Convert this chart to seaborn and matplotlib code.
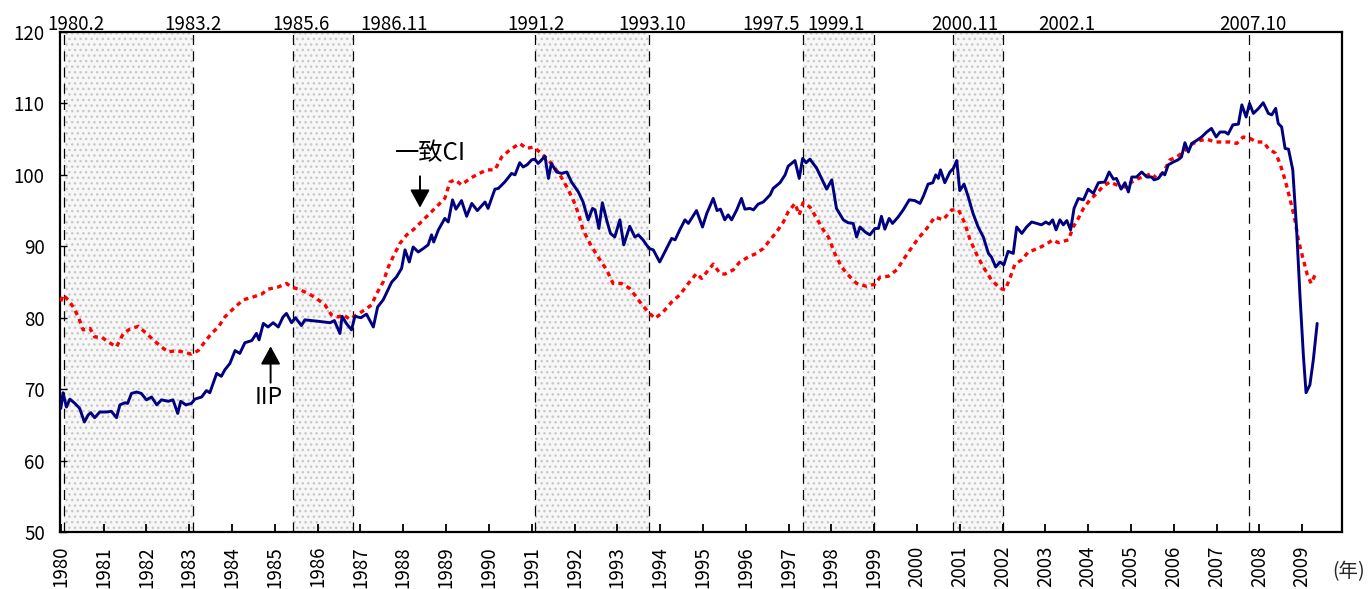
import numpy as np
import pandas as pd
import matplotlib
matplotlib.use("Agg")
import matplotlib.pyplot as plt
import seaborn as sns

sns.set_style("white")
plt.rcParams['font.family'] = ['Noto Sans CJK JP', 'DejaVu Sans']

# ---------------- data ----------------
iip_year = [1980.00, 1980.05, 1980.13, 1980.21, 1980.33, 1980.44, 1980.55, 1980.64, 1980.70, 1980.79,
            1980.91, 1981.07, 1981.18, 1981.30, 1981.38, 1981.50, 1981.56, 1981.65, 1981.77, 1981.88,
            1982.00, 1982.12, 1982.24, 1982.35, 1982.51, 1982.62, 1982.73, 1982.80, 1982.92, 1983.05,
            1983.13, 1983.29, 1983.40, 1983.48, 1983.64, 1983.75, 1983.83, 1983.95, 1984.07, 1984.18,
            1984.30, 1984.46, 1984.57, 1984.63, 1984.73, 1984.84, 1984.96, 1985.08, 1985.19, 1985.27,
            1985.39, 1985.48, 1985.62, 1985.70, 1986.01, 1986.29, 1986.39, 1986.52, 1986.57, 1986.67,
            1986.79, 1986.87, 1987.01, 1987.14, 1987.30, 1987.40, 1987.53, 1987.73, 1987.84, 1987.96,
            1988.04, 1988.14, 1988.23, 1988.35, 1988.47, 1988.58, 1988.66, 1988.71, 1988.82, 1988.97,
            1989.05, 1989.15, 1989.23, 1989.36, 1989.48, 1989.60, 1989.73, 1989.91, 1989.98, 1990.14,
            1990.22, 1990.37, 1990.53, 1990.61, 1990.72, 1990.80, 1990.89, 1991.00, 1991.07, 1991.15,
            1991.31, 1991.39, 1991.46, 1991.58, 1991.70, 1991.82, 1991.93, 1992.09, 1992.20, 1992.32,
            1992.42, 1992.48, 1992.57, 1992.65, 1992.75, 1992.84, 1992.94, 1993.06, 1993.15, 1993.29,
            1993.41, 1993.49, 1993.60, 1993.74, 1993.84, 1993.99, 1994.15, 1994.27, 1994.35, 1994.46,
            1994.58, 1994.66, 1994.85, 1994.99, 1995.09, 1995.24, 1995.33, 1995.41, 1995.51, 1995.59,
            1995.67, 1995.79, 1995.90, 1995.98, 1996.10, 1996.18, 1996.29, 1996.41, 1996.57, 1996.64,
            1996.80, 1996.92, 1996.99, 1997.15, 1997.25, 1997.33, 1997.41, 1997.50, 1997.66, 1997.77,
            1997.89, 1998.01, 1998.12, 1998.28, 1998.39, 1998.51, 1998.59, 1998.67, 1998.79, 1998.90,
            1999.02, 1999.10, 1999.17, 1999.25, 1999.35, 1999.43, 1999.56, 1999.68, 1999.82, 1999.95,
            2000.07, 2000.15, 2000.26, 2000.37, 2000.44, 2000.50, 2000.55, 2000.65, 2000.77, 2000.85,
            2000.93, 2001.00, 2001.10, 2001.20, 2001.31, 2001.43, 2001.55, 2001.67, 2001.74, 2001.84,
            2001.94, 2002.03, 2002.13, 2002.25, 2002.33, 2002.45, 2002.56, 2002.68, 2002.80, 2002.91,
            2003.01, 2003.09, 2003.17, 2003.25, 2003.34, 2003.42, 2003.50, 2003.59, 2003.67, 2003.77,
            2003.89, 2004.00, 2004.12, 2004.24, 2004.39, 2004.49, 2004.59, 2004.66, 2004.77, 2004.86,
            2004.94, 2005.02, 2005.13, 2005.25, 2005.37, 2005.48, 2005.54, 2005.64, 2005.74, 2005.79,
            2005.87, 2005.99, 2006.10, 2006.18, 2006.26, 2006.34, 2006.42, 2006.53, 2006.65, 2006.77,
            2006.88, 2006.99, 2007.08, 2007.20, 2007.27, 2007.38, 2007.51, 2007.59, 2007.69, 2007.77,
            2007.86, 2007.98, 2008.09, 2008.21, 2008.29, 2008.38, 2008.44, 2008.52, 2008.60, 2008.68,
            2008.78, 2008.87, 2008.95, 2009.03, 2009.09, 2009.18, 2009.26, 2009.35]
iip_value = [67.3, 69.5, 67.5, 68.6, 68.0, 67.3, 65.4, 66.4, 66.7, 66.0,
             66.8, 66.8, 66.9, 66.0, 67.8, 68.1, 68.0, 69.4, 69.6, 69.4,
             68.5, 68.9, 67.8, 68.5, 68.3, 68.5, 66.6, 68.3, 67.8, 68.0,
             68.6, 68.9, 69.8, 69.5, 72.2, 71.8, 72.7, 73.6, 75.4, 75.0,
             76.5, 76.8, 77.8, 76.9, 79.2, 78.7, 79.3, 78.7, 80.1, 80.6,
             79.3, 80.0, 78.9, 79.7, 79.5, 79.3, 79.6, 77.8, 80.2, 79.2,
             78.3, 80.2, 80.0, 80.5, 78.7, 81.5, 82.5, 85.0, 85.7, 86.9,
             89.5, 87.8, 89.9, 89.2, 89.7, 90.2, 91.6, 90.6, 92.3, 93.9,
             93.4, 96.5, 95.2, 96.4, 94.2, 96.0, 95.0, 96.2, 95.3, 98.0,
             98.1, 99.0, 100.2, 100.0, 101.7, 101.1, 101.4, 102.1, 102.2, 101.6,
             102.6, 99.5, 101.6, 100.4, 100.2, 100.4, 99.0, 97.6, 96.2, 93.7,
             95.3, 95.1, 92.5, 96.1, 93.7, 91.8, 91.3, 93.7, 90.2, 92.8,
             91.3, 91.6, 90.9, 89.7, 89.5, 87.8, 89.7, 91.1, 90.9, 92.3,
             93.7, 93.2, 95.0, 92.7, 94.6, 96.7, 95.0, 95.2, 93.7, 94.4,
             93.7, 95.1, 96.7, 95.2, 95.3, 95.1, 95.9, 96.2, 97.2, 98.1,
             98.9, 100.0, 101.2, 102.0, 99.5, 102.3, 101.7, 102.2, 100.9, 99.5,
             98.0, 99.3, 95.3, 93.7, 93.3, 93.2, 91.3, 92.7, 92.0, 91.6,
             92.5, 92.5, 94.2, 92.4, 93.9, 93.2, 94.1, 95.1, 96.5, 96.4,
             96.0, 97.0, 98.7, 98.9, 100.0, 99.5, 100.7, 98.9, 100.4, 100.9,
             102.0, 97.8, 98.7, 96.9, 94.6, 92.7, 91.3, 89.0, 88.5, 87.1,
             87.8, 87.4, 89.3, 89.0, 92.7, 91.8, 92.7, 93.4, 93.2, 93.0,
             93.4, 93.1, 93.7, 92.3, 93.7, 93.0, 93.6, 92.3, 95.3, 96.7,
             96.5, 98.0, 97.4, 98.9, 99.0, 100.4, 99.4, 99.5, 98.0, 98.9,
             97.6, 99.7, 99.7, 100.4, 99.7, 99.7, 99.3, 99.5, 100.3, 100.0,
             101.4, 101.8, 102.1, 102.5, 104.5, 103.2, 104.4, 104.8, 105.3, 106.0,
             106.5, 105.3, 106.0, 106.0, 105.7, 107.0, 107.1, 109.8, 108.1, 110.0,
             108.6, 109.3, 110.1, 108.6, 108.4, 109.3, 107.2, 106.7, 103.7, 103.6,
             100.7, 92.3, 82.9, 74.5, 69.5, 70.6, 74.1, 79.2]

ci_year = [1980.00, 1980.05, 1980.17, 1980.29, 1980.41, 1980.52, 1980.68, 1980.79, 1980.95, 1981.11,
           1981.30, 1981.46, 1981.61, 1981.81, 1981.96, 1982.16, 1982.35, 1982.51, 1982.70, 1982.86,
           1983.05, 1983.21, 1983.36, 1983.52, 1983.68, 1983.83, 1984.07, 1984.26, 1984.49, 1984.69,
           1984.84, 1985.08, 1985.27, 1985.39, 1985.55, 1985.78, 1985.97, 1986.17, 1986.32, 1986.48,
           1986.60, 1986.75, 1986.91, 1987.10, 1987.26, 1987.38, 1987.53, 1987.65, 1987.76, 1987.92,
           1988.08, 1988.23, 1988.35, 1988.62, 1988.82, 1988.97, 1989.09, 1989.21, 1989.36, 1989.56,
           1989.71, 1989.95, 1990.14, 1990.30, 1990.49, 1990.72, 1990.88, 1991.04, 1991.23, 1991.46,
           1991.66, 1991.82, 1991.97, 1992.09, 1992.20, 1992.36, 1992.55, 1992.75, 1992.90, 1993.10,
           1993.29, 1993.53, 1993.72, 1993.88, 1994.07, 1994.27, 1994.46, 1994.66, 1994.85, 1994.97,
           1995.09, 1995.24, 1995.40, 1995.51, 1995.71, 1995.86, 1996.06, 1996.25, 1996.41, 1996.57,
           1996.72, 1996.88, 1996.99, 1997.15, 1997.25, 1997.34, 1997.50, 1997.66, 1997.81, 1997.93,
           1998.08, 1998.24, 1998.39, 1998.59, 1998.82, 1999.02, 1999.14, 1999.33, 1999.53, 1999.68,
           1999.84, 2000.03, 2000.23, 2000.42, 2000.61, 2000.81, 2000.97, 2001.12, 2001.24, 2001.40,
           2001.55, 2001.74, 2001.94, 2002.06, 2002.17, 2002.29, 2002.45, 2002.60, 2002.83, 2002.99,
           2003.18, 2003.30, 2003.54, 2003.65, 2003.77, 2003.89, 2004.04, 2004.20, 2004.35, 2004.51,
           2004.66, 2004.86, 2005.02, 2005.18, 2005.33, 2005.48, 2005.60, 2005.76, 2005.91, 2006.07,
           2006.22, 2006.42, 2006.61, 2006.77, 2006.96, 2007.12, 2007.31, 2007.47, 2007.62, 2007.78,
           2007.94, 2008.09, 2008.21, 2008.38, 2008.48, 2008.60, 2008.72, 2008.83, 2008.91, 2009.01,
           2009.12, 2009.21, 2009.33]
ci_value = [82.3, 83.2, 82.5, 81.5, 80.1, 78.3, 78.5, 77.3, 77.3, 76.6,
            75.9, 77.8, 78.4, 78.8, 78.0, 76.9, 75.9, 75.2, 75.4, 75.2,
            74.9, 75.4, 76.6, 77.8, 78.7, 80.1, 81.5, 82.5, 82.9, 83.3,
            84.0, 84.3, 84.8, 84.3, 84.0, 83.4, 82.7, 81.8, 80.4, 80.1,
            80.4, 79.8, 80.4, 81.1, 81.8, 83.4, 85.0, 87.1, 88.5, 90.4,
            91.6, 92.3, 93.0, 94.6, 95.8, 96.7, 99.0, 99.3, 98.6, 99.5,
            100.0, 100.7, 100.7, 102.5, 103.5, 104.4, 103.7, 103.9, 103.0, 101.6,
            100.0, 98.3, 96.5, 94.6, 92.3, 90.4, 88.5, 86.7, 84.8, 84.8,
            84.1, 82.2, 80.8, 79.9, 80.8, 82.2, 83.2, 84.8, 86.2, 85.5,
            86.4, 87.5, 86.2, 86.1, 86.7, 87.8, 88.5, 89.0, 89.7, 90.9,
            92.0, 93.4, 94.8, 96.0, 94.4, 96.1, 95.5, 93.9, 92.3, 91.3,
            89.0, 87.1, 86.0, 84.8, 84.4, 84.7, 85.7, 85.8, 86.7, 88.1,
            89.5, 91.1, 92.5, 94.1, 93.7, 95.1, 95.1, 93.2, 90.9, 88.8,
            87.1, 85.3, 84.1, 83.9, 85.5, 87.5, 88.1, 89.2, 89.7, 90.2,
            90.9, 90.5, 90.9, 92.7, 93.9, 95.3, 96.5, 97.4, 98.4, 99.0,
            98.6, 98.3, 99.0, 99.5, 99.8, 100.2, 99.5, 100.4, 102.1, 102.5,
            103.2, 104.3, 104.8, 105.0, 104.6, 104.6, 104.6, 104.4, 105.3, 105.1,
            104.6, 104.6, 103.7, 103.0, 101.6, 99.3, 96.5, 93.7, 90.9, 88.5,
            86.0, 84.8, 86.4]

turning_points = ["1980.2", "1983.2", "1985.6", "1986.11", "1991.2", "1993.10",
                  "1997.5", "1999.1", "2000.11", "2002.1", "2007.10"]
year_ticks = list(range(1980, 2010))
y_ticks = [50, 60, 70, 80, 90, 100, 110, 120]

# ---------------- layout / style ----------------
def tp_pos(s):
    y, m = s.split(".")
    return int(y) + (int(m) - 1) / 12.0

tp_x = [tp_pos(s) for s in turning_points]
label_shift = [0.27, 0.0, 0.19, 0.95, 0.02, 0.06, -0.74, -0.89, 0.29, 1.5, 0.1]

df_iip = pd.DataFrame({"year": iip_year, "value": iip_value})
df_ci = pd.DataFrame({"year": ci_year, "value": ci_value})

fig = plt.figure(figsize=(13.72, 5.89), dpi=100)
ax = fig.add_axes([60 / 1372, 57 / 589, 1282 / 1372, 500 / 589])

plt.rcParams['hatch.linewidth'] = 1.0
for i in range(0, 10, 2):
    ax.axvspan(tp_x[i], tp_x[i + 1], facecolor='#f7f7f7', edgecolor='#c8c8c8',
               hatch='...', lw=0, zorder=0)
for t in tp_x:
    ax.axvline(t, color='black', lw=0.9, ls=(0, (8, 5)), zorder=1)

sns.lineplot(data=df_ci, x="year", y="value", ax=ax, color='#ff0000', lw=2.4,
             linestyle=(0, (1.4, 1.3)), estimator=None, sort=False, zorder=3)
sns.lineplot(data=df_iip, x="year", y="value", ax=ax, color='#000080', lw=2.1,
             estimator=None, sort=False, zorder=4)

ax.set_xlim(1979.98, 2009.93)
ax.set_ylim(50, 120)
ax.set_xticks(year_ticks)
ax.set_xticklabels([str(y) for y in year_ticks], rotation=90)
ax.set_yticks(y_ticks)
ax.set_yticklabels([str(v) for v in y_ticks])
ax.set_xlabel("")
ax.set_ylabel("")
for sp in ax.spines.values():
    sp.set_visible(True)
    sp.set_color('black')
    sp.set_linewidth(1.6)
ax.tick_params(axis='x', direction='in', length=6, width=1.3, pad=10,
               labelsize=13.5, top=False, bottom=True, colors='black')
ax.tick_params(axis='y', direction='in', length=5, width=1.0, pad=11,
               labelsize=13.5, right=False, left=True, colors='black')
ax.grid(False)

for t, s, d in zip(tp_x, turning_points, label_shift):
    ax.text(t + d, 120.25, s, ha='center', va='baseline', fontsize=13.5, color='black',
            zorder=6, clip_on=False)

arrow_style = dict(arrowstyle='-|>,head_width=0.3,head_length=0.55', color='black',
                   lw=1.4, mutation_scale=20, shrinkA=0, shrinkB=0)
ax.annotate("", xy=(1988.39, 95.4), xytext=(1988.39, 99.8), arrowprops=arrow_style, zorder=7)
ax.text(1988.64, 103.1, "一致CI", ha='center', va='center', fontsize=17.5, color='black', zorder=7)
ax.annotate("", xy=(1984.90, 76.0), xytext=(1984.90, 70.9), arrowprops=arrow_style, zorder=7)
ax.text(1984.86, 68.9, "IIP", ha='center', va='center', fontsize=16.5, color='black', zorder=7)

fig.text(1349 / 1372, 1 - 572 / 589, "(年)", ha='center', va='center', fontsize=14)

fig.savefig("out.png", dpi=100)
